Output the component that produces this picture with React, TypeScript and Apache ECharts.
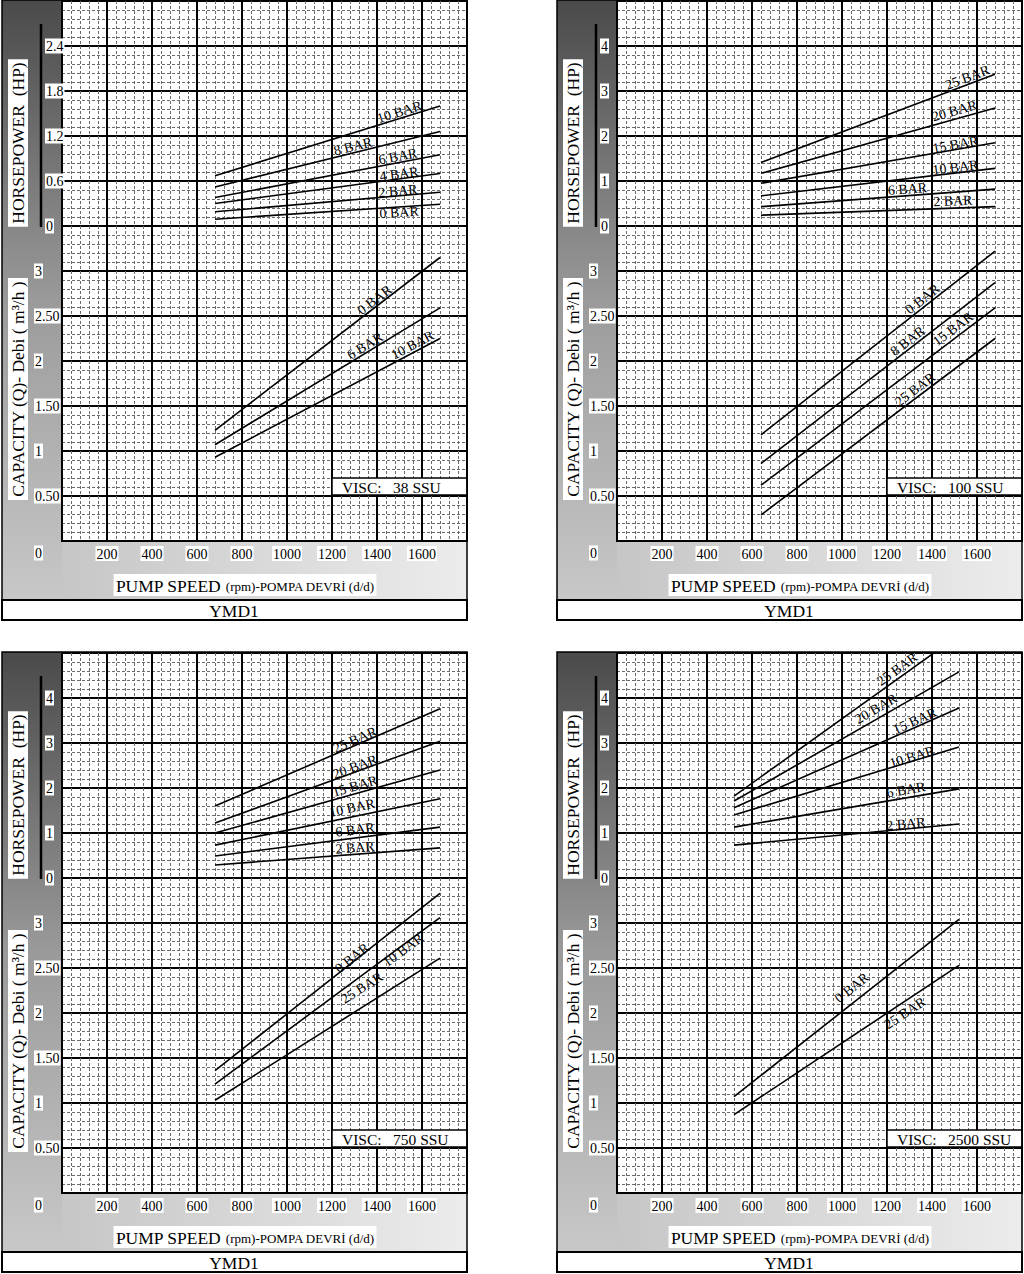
import React, { useEffect, useRef } from 'react';
import * as echarts from 'echarts';

const FONT = '"Liberation Serif", "Times New Roman", serif';

// ---------- shared axes ----------
const rpmMax = 1800;
const rpmStep = 200;
const qMax = 6;
const qStep = 0.5;
const xTickLabels = [200, 400, 600, 800, 1000, 1200, 1400, 1600];

// ---------- panel 1 : VISC 38 SSU ----------
const p1HpStep = 0.6;
const p1Rpm = [680, 1680];
const p1HpNames = ['0 BAR', '2 BAR', '4 BAR', '6 BAR', '8 BAR', '10 BAR'];
const p1HpStart = [0.09, 0.19, 0.3, 0.38, 0.52, 0.67];
const p1HpEnd = [0.29, 0.45, 0.7, 0.95, 1.26, 1.6];
const p1HpLabelAt = [[1498, 0.18], [1493, 0.467], [1498, 0.693], [1493, 0.927], [1293, 1.06], [1500, 1.52]];
const p1QNames = ['0 BAR', '6 BAR', '10 BAR'];
const p1QStart = [1.23, 1.07, 0.93];
const p1QEnd = [3.15, 2.59, 2.25];
const p1QLabelAt = [[1389, 2.678], [1347, 2.167], [1558, 2.178]];

// ---------- panel 2 : VISC 100 SSU ----------
const p2HpStep = 1;
const p2Rpm = [640, 1680];
const p2HpNames = ['2 BAR', '6 BAR', '10 BAR', '15 BAR', '20 BAR', '25 BAR'];
const p2HpStart = [0.24, 0.43, 0.67, 0.95, 1.17, 1.41];
const p2HpEnd = [0.43, 0.82, 1.28, 1.85, 2.62, 3.37];
const p2HpLabelAt = [[1493, 0.556], [1291, 0.822], [1504, 1.3], [1504, 1.81], [1500, 2.556], [1558, 3.3]];
const p2QNames = ['0 BAR', '8 BAR', '15 BAR', '25 BAR'];
const p2QStart = [1.18, 0.86, 0.62, 0.29];
const p2QEnd = [3.22, 2.87, 2.59, 2.25];
const p2QLabelAt = [[1358, 2.689], [1291, 2.222], [1493, 2.356], [1324, 1.683]];

// ---------- panel 3 : VISC 750 SSU ----------
const p3HpStep = 1;
const p3Rpm = [680, 1680];
const p3HpNames = ['2 BAR', '6 BAR', '10 BAR', '15 BAR', '20 BAR', '25 BAR'];
const p3HpStart = [0.29, 0.49, 0.73, 1.0, 1.22, 1.6];
const p3HpEnd = [0.67, 1.13, 1.76, 2.4, 3.04, 3.76];
const p3HpLabelAt = [[1302, 0.67], [1302, 1.07], [1289, 1.56], [1302, 2.04], [1302, 2.47], [1302, 3.07]];
const p3QNames = ['0 BAR', '10 BAR', '25 BAR'];
const p3QStart = [1.36, 1.21, 1.03];
const p3QEnd = [3.33, 3.06, 2.61];
const p3QLabelAt = [[1289, 2.61], [1516, 2.7], [1333, 2.28]];

// ---------- panel 4 : VISC 2500 SSU ----------
const p4HpStep = 1;
const p4Rpm = [520, 1520];
const p4HpNames = ['2 BAR', '6 BAR', '10 BAR', '15 BAR', '20 BAR', '25 BAR'];
const p4HpStart = [0.73, 1.13, 1.4, 1.56, 1.71, 1.82];
const p4HpEnd = [1.2, 1.98, 2.91, 3.78, 4.58, 5.4];
const p4HpLabelAt = [[1284, 1.2], [1284, 1.96], [1311, 2.69], [1324, 3.49], [1151, 3.76], [1245, 4.64]];
const p4QNames = ['0 BAR', '25 BAR'];
const p4QStart = [1.07, 0.87];
const p4QEnd = [3.04, 2.53];
const p4QLabelAt = [[1044, 2.28], [1280, 2.0]];

const viscTexts = ['38 SSU', '100 SSU', '750 SSU', '2500 SSU'];
const footerText = 'YMD1';

type Group = { rpm: number[]; names: string[]; start: number[]; end: number[]; labelAt: number[][] };
type Panel = { px: number; py: number; hpStep: number; visc: string; hp: Group; q: Group };

const panels: Panel[] = [
  { px: 2, py: 0, hpStep: p1HpStep, visc: viscTexts[0],
    hp: { rpm: p1Rpm, names: p1HpNames, start: p1HpStart, end: p1HpEnd, labelAt: p1HpLabelAt },
    q: { rpm: p1Rpm, names: p1QNames, start: p1QStart, end: p1QEnd, labelAt: p1QLabelAt } },
  { px: 557, py: 0, hpStep: p2HpStep, visc: viscTexts[1],
    hp: { rpm: p2Rpm, names: p2HpNames, start: p2HpStart, end: p2HpEnd, labelAt: p2HpLabelAt },
    q: { rpm: p2Rpm, names: p2QNames, start: p2QStart, end: p2QEnd, labelAt: p2QLabelAt } },
  { px: 2, py: 652, hpStep: p3HpStep, visc: viscTexts[2],
    hp: { rpm: p3Rpm, names: p3HpNames, start: p3HpStart, end: p3HpEnd, labelAt: p3HpLabelAt },
    q: { rpm: p3Rpm, names: p3QNames, start: p3QStart, end: p3QEnd, labelAt: p3QLabelAt } },
  { px: 557, py: 652, hpStep: p4HpStep, visc: viscTexts[3],
    hp: { rpm: p4Rpm, names: p4HpNames, start: p4HpStart, end: p4HpEnd, labelAt: p4HpLabelAt },
    q: { rpm: p4Rpm, names: p4QNames, start: p4QStart, end: p4QEnd, labelAt: p4QLabelAt } },
];

const PLOT_W = 405;
const PLOT_H = 540;
const TICK_FS = 14;

const labelRich = {
  b: { backgroundColor: '#fff', padding: [1, 1, 0, 1], fontFamily: FONT, fontSize: TICK_FS, color: '#000' },
};

const minorStyle = { color: '#6a6a6a', width: 1, type: [3, 2] };

function buildOption() {
  const grid: any[] = [];
  const xAxis: any[] = [];
  const yAxis: any[] = [];
  const series: any[] = [];
  panels.forEach((p, i) => {
    grid.push({
      left: p.px + 60, top: p.py + 1, width: PLOT_W, height: PLOT_H,
      show: true, backgroundColor: '#fff', borderColor: '#000', borderWidth: 2,
      containLabel: false, outerBoundsMode: 'none',
    });
    xAxis.push({
      gridIndex: i, type: 'value', position: 'bottom', min: 0, max: rpmMax, interval: rpmStep,
      axisLine: { show: false }, axisTick: { show: false },
      splitLine: { show: true, lineStyle: { color: '#000', width: 2 } },
      minorTick: { show: false, splitNumber: 5 },
      minorSplitLine: { show: true, lineStyle: minorStyle },
      axisLabel: {
        margin: 5, fontFamily: FONT, fontSize: TICK_FS, color: '#000',
        formatter: (v: number) => (xTickLabels.indexOf(Math.round(v)) >= 0 ? `{b|${Math.round(v)}}` : ''),
        rich: labelRich,
      },
    });
    yAxis.push({
      gridIndex: i, type: 'value', position: 'left', min: 0, max: 12, interval: 1,
      axisLine: { show: false }, axisTick: { show: false }, axisLabel: { show: false },
      splitLine: { show: true, lineStyle: { color: '#000', width: 2 } },
      minorTick: { show: false, splitNumber: 5 },
      minorSplitLine: { show: true, lineStyle: minorStyle },
    });
    const s = p.hpStep;
    const hpMin = s === 1 ? -7 : -4.2;
    const hpMax = s === 1 ? 5 : 3;
    yAxis.push({
      gridIndex: i, type: 'value', position: 'left', offset: 0, min: hpMin, max: hpMax, interval: s,
      axisLine: { show: false }, axisTick: { show: false }, splitLine: { show: false },
      axisLabel: {
        align: 'left', margin: 17, fontFamily: FONT, fontSize: TICK_FS, color: '#000',
        formatter: (v: number) => {
          const r = Math.round(v * 100) / 100;
          if (r < 0 || r > hpMax - s / 2) return '';
          return `{b|${r}}`;
        },
        rich: labelRich,
      },
    });
    yAxis.push({
      gridIndex: i, type: 'value', position: 'left', offset: 0, min: 0, max: qMax, interval: qStep,
      axisLine: { show: false }, axisTick: { show: false }, splitLine: { show: false },
      axisLabel: {
        align: 'left', margin: 28, fontFamily: FONT, fontSize: TICK_FS, color: '#000',
        formatter: (v: number) => {
          const r = Math.round(v * 100) / 100;
          if (r <= 0 || r > 3) return '';
          return `{b|${Number.isInteger(r) ? String(r) : r.toFixed(2)}}`;
        },
        rich: labelRich,
      },
    });
    const groups: [Group, number][] = [[p.hp, i * 3 + 1], [p.q, i * 3 + 2]];
    groups.forEach(([g, yi]) => {
      g.names.forEach((n, k) => {
        series.push({
          type: 'line', name: n, xAxisIndex: i, yAxisIndex: yi, silent: true,
          symbol: 'none', clip: true,
          lineStyle: { color: '#000', width: 1.6 },
          data: [[g.rpm[0], g.start[k]], [g.rpm[1], g.end[k]]],
          z: 5,
        });
      });
    });
  });
  return { animation: false, backgroundColor: '#fff', grid, xAxis, yAxis, series };
}

function txt(x: number, y: number, text: string, size: number, opts: any = {}) {
  const align = opts.align || 'center';
  const va = opts.va || 'middle';
  return {
    type: 'text', x, y, rotation: opts.rotation || 0, z: opts.z ?? 20, silent: true,
    style: {
      text, fill: '#000', fontFamily: FONT, fontSize: size,
      align, textAlign: align, verticalAlign: va, textVerticalAlign: va,
      backgroundColor: opts.bg, padding: opts.padding, rich: opts.rich,
    },
  };
}

function buildGraphics(chart: any) {
  const g: any[] = [];
  panels.forEach((p, i) => {
    const { px, py } = p;
    g.push({
      type: 'rect', z: -10, silent: true,
      shape: { x: px, y: py, width: 60, height: 600 },
      style: { fill: { type: 'linear', x: 0, y: 0, x2: 0, y2: 1, colorStops: [
        { offset: 0, color: '#4a4a4a' }, { offset: 0.5, color: '#9a9a9a' }, { offset: 1, color: '#c8c8c8' }] } },
    });
    g.push({
      type: 'rect', z: -10, silent: true,
      shape: { x: px + 60, y: py + 541, width: 405, height: 59 },
      style: { fill: { type: 'linear', x: 0, y: 0, x2: 1, y2: 0, colorStops: [
        { offset: 0, color: '#c6c6c6' }, { offset: 1, color: '#ececec' }] } },
    });
    g.push({
      type: 'rect', z: -5, silent: true,
      shape: { x: px, y: py + 600, width: 465, height: 20 },
      style: { fill: '#fff', stroke: '#000', lineWidth: 2 },
    });
    g.push({
      type: 'rect', z: 30, silent: true,
      shape: { x: px, y: py, width: 465, height: 620 },
      style: { fill: 'none', stroke: '#000', lineWidth: 1.5 },
    });
    g.push({
      type: 'line', z: 10, silent: true,
      shape: { x1: px + 39, y1: py + 24, x2: px + 39, y2: py + 227 },
      style: { stroke: '#000', lineWidth: 2.5 },
    });
    g.push(txt(px + 16, py + 143, 'HORSEPOWER  (HP)', 17.5, { rotation: Math.PI / 2, bg: '#fff', padding: [2, 3, 0, 3] }));
    g.push(txt(px + 16, py + 389, 'CAPACITY (Q)- Debi ( m³/h )', 17.5, { rotation: Math.PI / 2, bg: '#fff', padding: [2, 3, 0, 3] }));
    g.push(txt(px + 32, py + 553, '0', TICK_FS, { align: 'left', bg: '#fff', padding: [1, 1, 0, 1] }));
    g.push(txt(px + 243, py + 585, '{a|PUMP SPEED} {s|(rpm)-POMPA DEVRİ (d/d)}', 17.5, {
      bg: '#fff', padding: [3, 2, 1, 2],
      rich: { a: { fontSize: 17.5, fontFamily: FONT, color: '#000' }, s: { fontSize: 13, fontFamily: FONT, color: '#000' } },
    }));
    g.push(txt(px + 232, py + 611, footerText, 17.5));
    g.push({
      type: 'rect', z: 15, silent: true,
      shape: { x: px + 330, y: py + 478, width: 135, height: 17 },
      style: { fill: '#fff', stroke: '#000', lineWidth: 1.5 },
    });
    g.push(txt(px + 340, py + 487, 'VISC:', 15.5, { align: 'left' }));
    g.push(txt(px + 391, py + 487, p.visc, 15.5, { align: 'left' }));

    const groups: [Group, number][] = [[p.hp, i * 3 + 1], [p.q, i * 3 + 2]];
    groups.forEach(([gr, yi]) => {
      gr.names.forEach((n, k) => {
        const f = { xAxisIndex: i, yAxisIndex: yi };
        const a = chart.convertToPixel(f, [gr.rpm[0], gr.start[k]]);
        const b = chart.convertToPixel(f, [gr.rpm[1], gr.end[k]]);
        const c = chart.convertToPixel(f, gr.labelAt[k]);
        const rot = Math.atan2(a[1] - b[1], b[0] - a[0]);
        g.push(txt(c[0], c[1], n, 14, { rotation: rot, z: 25 }));
      });
    });
  });
  return g;
}

export default function App() {
  const ref = useRef<HTMLDivElement>(null);
  useEffect(() => {
    if (!ref.current) return;
    const chart = echarts.init(ref.current, null, { renderer: 'svg' });
    chart.setOption(buildOption());
    chart.setOption({ graphic: buildGraphics(chart) });
    return () => chart.dispose();
  }, []);
  return (
    <div
      ref={ref}
      style={{ position: 'absolute', left: 0, top: 0, width: 1024, height: 1274, background: '#fff' }}
    />
  );
}
